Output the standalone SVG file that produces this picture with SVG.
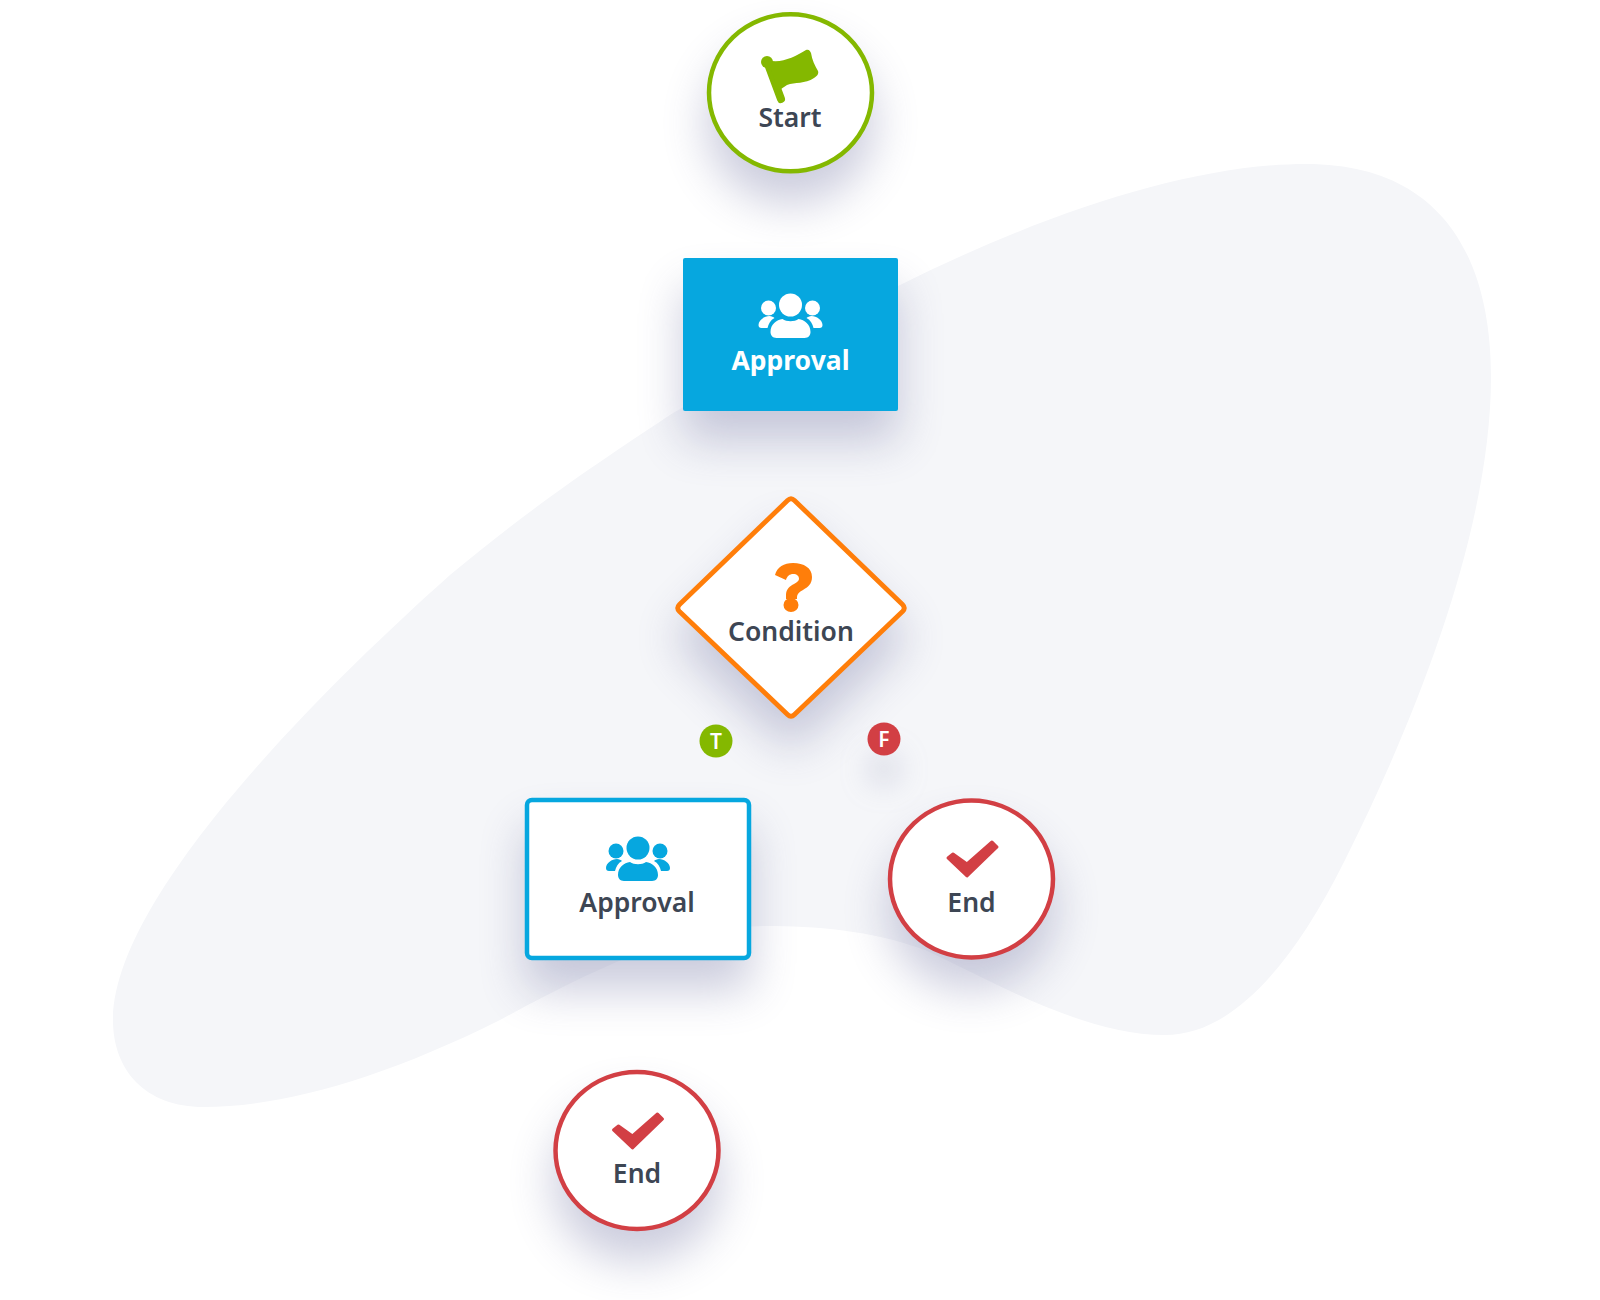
<svg xmlns="http://www.w3.org/2000/svg" width="1600" height="1300" viewBox="0 0 1600 1300">
<style>
.lbl{font-family:"Noto Sans","Open Sans","Liberation Sans",sans-serif;font-weight:600;font-size:26.500px;text-anchor:middle;fill:#3d4654}
.bdg{font-family:"Noto Sans","Open Sans","Liberation Sans",sans-serif;font-weight:600;font-size:21px;text-anchor:middle;fill:#fff}
.sh{filter:url(#shadow)}
.shb{filter:url(#shadowb)}
.ci{fill:#fff;stroke-width:4.5}
.green{fill:#84b800}.red{fill:#d23f44}.blue{fill:#06a7df}.orange{fill:#ff7e0a}
</style>
<defs>
<filter id="shadow" x="-60%" y="-60%" width="220%" height="240%" color-interpolation-filters="sRGB">
<feDropShadow dx="0" dy="30" stdDeviation="23" flood-color="#8d8fb4" flood-opacity="0.46"/>
</filter>
<filter id="shadowb" x="-300%" y="-300%" width="700%" height="800%" color-interpolation-filters="sRGB">
<feDropShadow dx="0" dy="30" stdDeviation="14" flood-color="#8d8fb4" flood-opacity="0.25"/>
</filter>
<g id="people">
<circle cx="0" cy="-13" r="11.500"/>
<circle cx="-22" cy="-10" r="7.500"/>
<circle cx="22" cy="-10" r="7.500"/>
<path d="M-14 20C-18 20-20 17-20 14C-20 6-14 2-8 1C-4 4 4 4 8 1C14 2 20 6 20 14C20 17 18 20 14 20Z"/>
<path d="M-21-2C-26-2-32 2-32 7C-32 9-31 10-29 10L-23 10C-22 6-20 2-16 0C-17-1-19-2-21-2Z"/>
<path d="M21-2C26-2 32 2 32 7C32 9 31 10 29 10L23 10C22 6 20 2 16 0C17-1 19-2 21-2Z"/>
</g>
<path id="check" stroke-width="3" stroke-linejoin="round" d="M-24-1L-19-5L-5 5L20-17L25-12L-5 17Z"/>
</defs>
<path id="blob" fill="#f5f6f9" d="M1306 164C1440 164 1491 255 1491 377C1491 520 1425 700 1345 860C1285 980 1225 1035 1165 1035C1085 1035 1000 985 925 950C870 930 815 926 765 926C690 926 610 960 500 1020C380 1080 280 1107 204 1107C145 1107 113 1070 113 1020C113 900 310 700 450 575C540 500 610 455 673 413L898 286C1040 215 1190 164 1306 164Z"/>
<g id="start">
<ellipse class="ci sh" cx="790.500" cy="92.800" rx="81.500" ry="78.500" stroke="#84b800"/>
<g class="green">
<circle cx="767" cy="62" r="6"/>
<path d="M768 64L781 99" stroke="#84b800" stroke-width="8" stroke-linecap="round"/>
<path d="M768 60C780 64 795 57 806 50C809 49 810 51 811 53C812 60 815 66 818 71C819 74 817 76 814 78C805 84 795 82 787 85L778 91Z"/>
</g>
<text class="lbl" x="790" y="127">Start</text>
</g>
<g id="approval-1">
<rect class="blue sh" x="683" y="258" width="215" height="153" rx="2"/>
<use href="#people" x="790.500" y="318" fill="#fff"/>
<text class="lbl" x="790.500" y="370" style="fill:#fff;font-weight:700">Approval</text>
</g>
<g id="condition">
<path class="sh" d="M787.500 500.500Q791 497 794.500 500.500L902.500 604.500Q906 608 902.500 611.500L794.500 714.500Q791 718 787.500 714.500L679.500 611.500Q676 608 679.500 604.500Z" fill="#fff" stroke="#ff7e0a" stroke-width="4.800" stroke-linejoin="round"/>
<path class="orange" d="M775 575C777 567 784 563 793 563C804 563 812 568 812 577C812 584 808 587 803 590C799 592 797 594 797 597V599H786V595C786 589 790 586 794 584C797 582 799 581 799 579C799 576 797 574 793 574C790 574 787 576 786 580ZM791 598A7.500 7 0 1 1 791 612A7.500 7 0 1 1 791 598Z"/>
<text class="lbl" x="791" y="641">Condition</text>
</g>
<g id="badge-t">
<circle class="green" cx="716" cy="741" r="16.500"/>
<text class="bdg" x="716" y="749">T</text>
</g>
<g id="badge-f">
<circle class="red shb" cx="884" cy="739" r="16.500"/>
<text class="bdg" x="884" y="747">F</text>
</g>
<g id="approval-2">
<rect class="sh" x="527" y="800" width="222" height="158" rx="5" fill="#fff" stroke="#06a7df" stroke-width="4.500"/>
<use href="#people" x="638" y="861" class="blue"/>
<text class="lbl" x="637" y="912">Approval</text>
</g>
<g id="end-1">
<ellipse class="ci sh" cx="971.500" cy="879" rx="81.500" ry="78.500" stroke="#d23f44"/>
<use href="#check" x="972" y="859" class="red" stroke="#d23f44"/>
<text class="lbl" x="971.500" y="912">End</text>
</g>
<g id="end-2">
<ellipse class="ci sh" cx="637" cy="1150.500" rx="81.500" ry="78.500" stroke="#d23f44"/>
<use href="#check" x="637.500" y="1131" class="red" stroke="#d23f44"/>
<text class="lbl" x="637" y="1183">End</text>
</g>
</svg>
